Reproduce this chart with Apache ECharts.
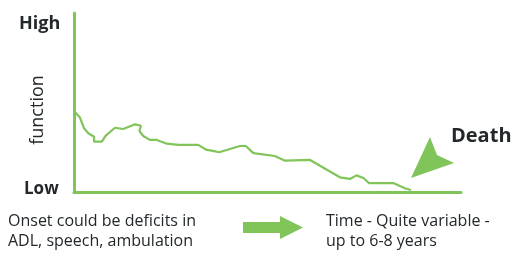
<!DOCTYPE html>
<html>
<head>
<meta charset="utf-8">
<script src="https://cdn.jsdelivr.net/npm/echarts@6/dist/echarts.min.js"></script>
<style>html,body{margin:0;padding:0;background:#fff}#c{width:511px;height:253px}</style>
</head>
<body>
<div id="c"></div>
<script>
// Time (0-100, relative) and function level (0-100, relative)
var timeValues = [0.1,1.5,2.1,2.6,3.7,5.2,5.2,7.2,8.2,10.6,12.7,15.8,17.3,16.9,17.9,19.6,21.4,21.8,24.0,27.0,32.1,34.3,35.6,37.5,42.9,44.4,46.2,46.8,51.9,54.5,61.0,68.7,71.3,73.0,74.8,76.2,82.5,85.5,87.1];
var functionValues = [44.9,41.7,38.4,35.6,32.8,30.9,28.1,28.1,31.5,35.9,35.2,37.8,37.0,34.1,31.3,29.1,29.1,30.0,27.0,26.3,26.3,23.5,23.1,22.2,25.7,25.7,22.0,21.6,20.1,17.5,17.9,8.2,7.3,9.3,7.8,5.0,5.0,2.1,1.1];
var yLabels = ['High', 'Low'];
var axisTitle = 'function';
var endLabel = 'Death';
var noteLeft = ['Onset could be deficits in', 'ADL, speech, ambulation'];
var noteRight = ['Time - Quite variable -', 'up to 6-8 years'];

var green = '#80c45a';
var dark = '#23282b';
var font = '"Open Sans", "Noto Sans", sans-serif';

var chart = echarts.init(document.getElementById('c'));
var pts = timeValues.map(function (t, i) { return [t, functionValues[i]]; });

chart.setOption({
  animation: false,
  grid: { left: 74, top: 13, right: 50, bottom: 61 },
  xAxis: {
    type: 'value', min: 0, max: 100,
    axisLine: { show: true, lineStyle: { color: green, width: 3 } },
    axisTick: { show: false }, axisLabel: { show: false }, splitLine: { show: false }
  },
  yAxis: {
    type: 'value', min: 0, max: 100,
    axisLine: { show: true, lineStyle: { color: green, width: 3 } },
    axisTick: { show: false }, axisLabel: { show: false }, splitLine: { show: false }
  },
  series: [{
    type: 'line', data: pts, showSymbol: false, smooth: false,
    lineStyle: { color: green, width: 2.2 }
  }],
  graphic: [
    { type: 'text', style: { text: yLabels[0], x: 19, y: 24, font: 'bold 18px ' + font, fill: dark, verticalAlign: 'middle' } },
    { type: 'text', style: { text: yLabels[1], x: 24, y: 189.5, font: 'bold 17px ' + font, fill: dark, verticalAlign: 'middle' } },
    { type: 'text', x: 38, y: 110, rotation: Math.PI / 2, style: { text: axisTitle, x: 0, y: 0, font: '18px ' + font, fill: dark, align: 'center', verticalAlign: 'middle' } },
    { type: 'text', style: { text: endLabel, x: 451, y: 136, font: 'bold 20px ' + font, fill: dark, verticalAlign: 'middle' } },
    { type: 'polygon', shape: { points: [[411,178],[430,137],[437,155],[454,163]] }, style: { fill: green } },
    { type: 'polygon', shape: { points: [[243,222],[280,222],[280,216],[303,227.5],[280,239],[280,233],[243,233]] }, style: { fill: green } },
    { type: 'text', style: { text: noteLeft[0], x: 8, y: 221, font: '16px ' + font, fill: dark, verticalAlign: 'middle' } },
    { type: 'text', style: { text: noteLeft[1], x: 8, y: 241, font: '16px ' + font, fill: dark, verticalAlign: 'middle' } },
    { type: 'text', style: { text: noteRight[0], x: 326, y: 221, font: '16px ' + font, fill: dark, verticalAlign: 'middle' } },
    { type: 'text', style: { text: noteRight[1], x: 326, y: 241, font: '16px ' + font, fill: dark, verticalAlign: 'middle' } }
  ]
});
</script>
</body>
</html>
